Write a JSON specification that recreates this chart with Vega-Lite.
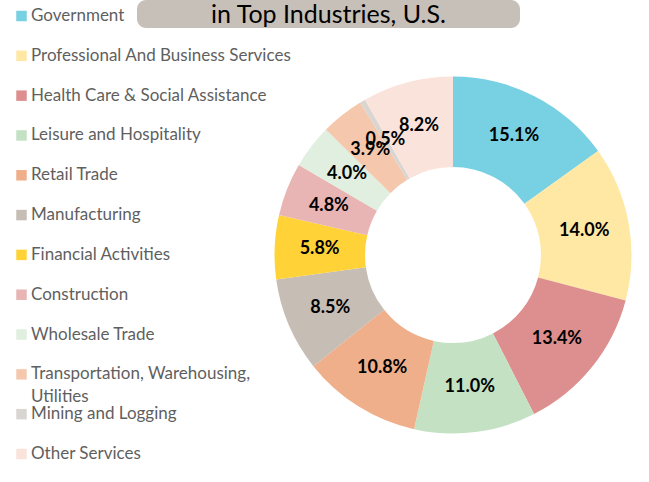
{
  "$schema": "https://vega.github.io/schema/vega-lite/v6.json",
  "background": "white",
  "padding": {"left": 16, "top": 0, "right": 0, "bottom": 0},
  "spacing": 110,
  "bounds": "flush",
  "config": {"view": {"stroke": null}},
  "datasets": {
    "jobs": [
      {"industry": "Government", "share": 0.151, "rank": 1},
      {"industry": "Professional And Business Services", "share": 0.140, "rank": 2},
      {"industry": "Health Care & Social Assistance", "share": 0.134, "rank": 3},
      {"industry": "Leisure and Hospitality", "share": 0.110, "rank": 4},
      {"industry": "Retail Trade", "share": 0.108, "rank": 5},
      {"industry": "Manufacturing", "share": 0.085, "rank": 6},
      {"industry": "Financial Activities", "share": 0.058, "rank": 7},
      {"industry": "Construction", "share": 0.048, "rank": 8},
      {"industry": "Wholesale Trade", "share": 0.040, "rank": 9},
      {"industry": "Transportation, Warehousing,\nUtilities", "share": 0.039, "rank": 10},
      {"industry": "Mining and Logging", "share": 0.005, "rank": 11},
      {"industry": "Other Services", "share": 0.082, "rank": 12}
    ]
  },
  "hconcat": [
    {
      "width": 11,
      "height": 470,
      "data": {"name": "jobs"},
      "encoding": {
        "y": {"field": "industry", "type": "nominal", "sort": null, "axis": null, "scale": {"type": "point", "padding": 0.402}}
      },
      "layer": [
        {
          "mark": {"type": "square", "size": 110, "filled": true, "opacity": 1},
          "encoding": {
            "color": {
              "field": "industry",
              "type": "nominal",
              "sort": null,
              "legend": null,
              "scale": {
                "domain": ["Government", "Professional And Business Services", "Health Care & Social Assistance", "Leisure and Hospitality", "Retail Trade", "Manufacturing", "Financial Activities", "Construction", "Wholesale Trade", "Transportation, Warehousing,\nUtilities", "Mining and Logging", "Other Services"],
                "range": ["#78D0E3", "#FFE8A4", "#DD8F8F", "#C4E1C3", "#F0AF8B", "#C6BDB5", "#FFD337", "#E8B5B4", "#E0EFDF", "#F5C8AE", "#D9D6D2", "#FAE3DA"]
              }
            }
          }
        },
        {
          "mark": {"type": "text", "align": "left", "baseline": "middle", "dx": 9.5, "font": "Lato", "fontSize": 17, "color": "#5F5F5F", "lineBreak": "\n", "lineHeight": 23},
          "encoding": {"text": {"field": "industry", "type": "nominal"}}
        }
      ]
    },
    {
      "spacing": 0,
      "vconcat": [
        {
          "width": 383,
          "height": 28,
          "view": {"fill": "#C7C0B9", "cornerRadius": 9, "stroke": null},
          "data": {"values": [{"title": "in Top Industries, U.S."}]},
          "mark": {"type": "text", "font": "Lato", "fontSize": 25, "color": "#000000", "baseline": "middle", "align": "center", "dy": 1},
          "encoding": {"text": {"field": "title", "type": "nominal"}}
        },
        {
          "spacing": 0,
          "hconcat": [
            {
              "width": 137,
              "height": 454,
              "data": {"values": []},
              "mark": {"type": "point", "opacity": 0},
              "encoding": {}
            },
            {
              "width": 358,
              "height": 454,
              "data": {"name": "jobs"},
              "encoding": {
                "theta": {"field": "share", "type": "quantitative", "stack": true},
                "order": {"field": "rank", "type": "quantitative", "sort": "ascending"}
              },
              "layer": [
                {
                  "mark": {"type": "arc", "outerRadius": 178.5, "innerRadius": 88, "stroke": null},
                  "encoding": {
                    "color": {
                      "field": "industry",
                      "type": "nominal",
                      "sort": null,
                      "legend": null,
                      "scale": {
                        "domain": ["Government", "Professional And Business Services", "Health Care & Social Assistance", "Leisure and Hospitality", "Retail Trade", "Manufacturing", "Financial Activities", "Construction", "Wholesale Trade", "Transportation, Warehousing,\nUtilities", "Mining and Logging", "Other Services"],
                        "range": ["#78D0E3", "#FFE8A4", "#DD8F8F", "#C4E1C3", "#F0AF8B", "#C6BDB5", "#FFD337", "#E8B5B4", "#E0EFDF", "#F5C8AE", "#D9D6D2", "#FAE3DA"]
                      }
                    }
                  }
                },
                {
                  "mark": {"type": "text", "radius": 133.5, "font": "Lato", "fontWeight": "bold", "fontSize": 18, "color": "#000000"},
                  "encoding": {
                    "text": {"field": "share", "type": "quantitative", "format": ".1%"},
                    "detail": {"field": "industry", "type": "nominal"}
                  }
                }
              ]
            }
          ]
        }
      ]
    }
  ]
}
